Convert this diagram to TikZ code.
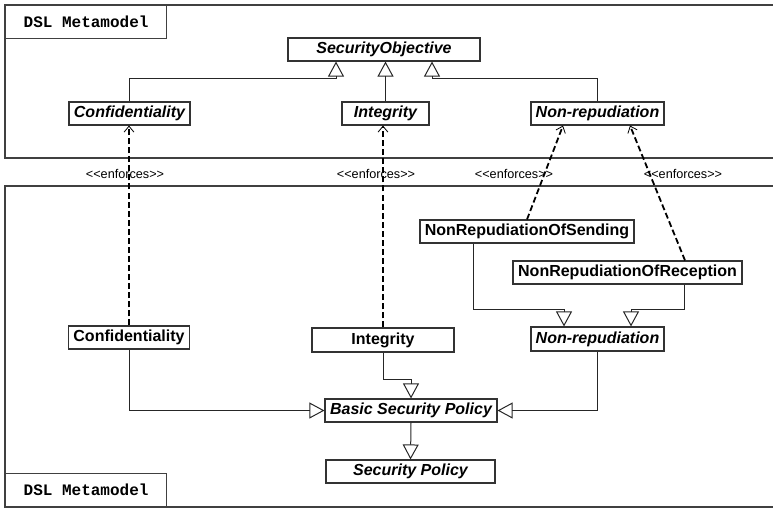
\documentclass[tikz,border=0pt]{standalone}
\usepackage{fontspec}
\setmainfont{Liberation Sans}
\newfontfamily\pkgfont{Liberation Mono}
\usetikzlibrary{calc,arrows.meta}

\def\px{0.75pt}

\tikzset{
  umlclass/.style={draw=black!80, line width=0.85pt, inner sep=0pt,
    minimum height=23*\px, font=\bfseries\fontsize{12}{14}\selectfont},
  absclass/.style={umlclass, font=\bfseries\itshape\fontsize{12}{14}\selectfont},
  gen/.style={draw=black!85, line width=0.75pt,
    -{Triangle[open,length=15*\px,width=16*\px,line width=0.75pt]}},
  enforce/.style={line width=1.35pt, dash pattern=on 4.5pt off 2.3pt,
    -{Straight Barb[length=4.5pt,width=7.5pt,line width=0.6pt]}},
  stereo/.style={inner sep=0pt, font=\fontsize{9.5}{11}\selectfont},
  pkgline/.style={draw=black!75, line width=1.2pt},
  pkgtab/.style={pkgline, line width=0.9pt, inner sep=0pt, anchor=north west,
    minimum width=161*\px, minimum height=33*\px,
    font=\pkgfont\bfseries\fontsize{12}{14}\selectfont},
}

\begin{document}
\begin{tikzpicture}[x=\px,y=-\px]
\useasboundingbox (0,0) rectangle (773,508);

% packages
\draw[pkgline] (773,5) -- (5,5) -- (5,158) -- (773,158);
\draw[pkgline] (773,186) -- (5,186) -- (5,507) -- (773,507);
\node[pkgtab] (toptab) at (5,5) {DSL Metamodel};
\node[pkgtab, anchor=south west] (bottab) at (5,507) {DSL Metamodel};

% objectives
\node[absclass, minimum width=192*\px] (secobj) at (384,49.5) {SecurityObjective};
\node[absclass, minimum width=121*\px] (cfobj) at (129.5,113.5) {Confidentiality};
\node[absclass, minimum width=87*\px] (inobj) at (385.5,113.5) {Integrity};
\node[absclass, minimum width=133*\px] (nrobj) at (597.5,113.5) {Non-repudiation};

% policies
\node[umlclass, minimum width=121*\px] (cfpol) at (129,337.5) {Confidentiality};
\node[umlclass, minimum width=142*\px, minimum height=24*\px] (inpol) at (383,340) {Integrity};
\node[umlclass, minimum width=214*\px] (nrspol) at (527,231.5) {NonRepudiationOfSending};
\node[umlclass, minimum width=229*\px] (nrrpol) at (627.5,272.5) {NonRepudiationOfReception};
\node[absclass, minimum width=133*\px, minimum height=24*\px] (nrpol) at (597.5,339) {Non-repudiation};
\node[absclass, minimum width=172*\px] (bsp) at (411,410.5) {Basic Security Policy};
\node[absclass, minimum width=169*\px] (secpol) at (410.5,471.5) {Security Policy};

% generalisations
\draw[gen] (cfobj.north) |- ($(secobj.south)+(-48,17)$) -- ($(secobj.south)+(-48,0)$);
\draw[gen] (inobj.north) -- (inobj.north |- secobj.south);
\draw[gen] (nrobj.north) |- ($(secobj.south)+(48,17)$) -- ($(secobj.south)+(48,0)$);

\draw[gen] ($(nrspol.south)+(-54,0)$) |- ($(nrpol.north)+(-33.5,-17)$) -- ($(nrpol.north)+(-33.5,0)$);
\draw[gen] ($(nrrpol.south)+(56.5,0)$) |- ($(nrpol.north)+(33.5,-17)$) -- ($(nrpol.north)+(33.5,0)$);
\draw[gen] (cfpol.south) |- (bsp.west);
\draw[gen] (nrpol.south) |- (bsp.east);
\draw[gen] (inpol.south) |- ($(bsp.north)+(0,-19)$) -- (bsp.north);
\draw[gen] (bsp.south) -- (secpol.north);

% enforces
\node[stereo] (cfenf) at (125,174) {<\kern0pt<enforces>\kern0pt>};
\node[stereo] (inenf) at (376,174) {<\kern0pt<enforces>\kern0pt>};
\node[stereo] (nrsenf) at (514,174) {<\kern0pt<enforces>\kern0pt>};
\node[stereo] (nrrenf) at (683,174) {<\kern0pt<enforces>\kern0pt>};

\draw[enforce] (cfpol.north) -- (cfpol.north |- cfobj.south);
\draw[enforce] (inpol.north) -- (inpol.north |- inobj.south);
\draw[enforce] (nrspol.north) -- ($(nrobj.south)+(-34.5,0)$);
\draw[enforce] ($(nrrpol.north)+(57.5,0)$) -- ($(nrobj.south)+(32.5,0)$);

\end{tikzpicture}
\end{document}
